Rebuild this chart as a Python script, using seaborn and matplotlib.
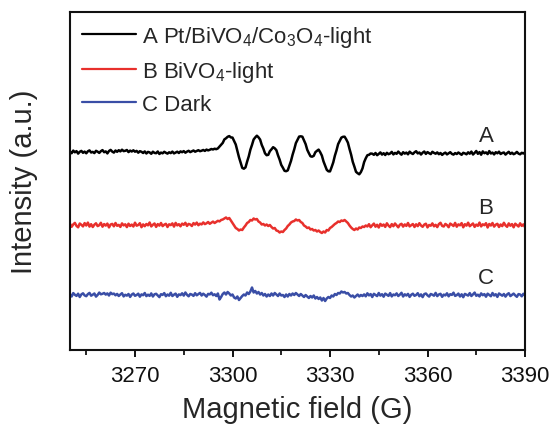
import numpy as np
import pandas as pd
import matplotlib
matplotlib.use("Agg")
import matplotlib.pyplot as plt
import seaborn as sns

# ---------------- data ----------------
field_start = 3250.0
field_step = 0.5

# Trace A (Pt/BiVO4/Co3O4-light), relative intensity
sig_a_left = [
    0.5, -1.2, 1.4, -0.3, 0.9, -1.6, 0.2, 1.1, -0.8, 0.4,
    -1.3, 0.7, 1.6, -0.5, 0.1, -1.1, 1.2, 0.3, -0.9, 0.8,
    1.9, -0.2, 0.6, -1.4, 1.0, 2.1, 0.4, -0.6, 1.5, 0.2,
    1.8, 0.6, 2.3, 0.9, 1.2, 2.0, -0.1, 1.4, 0.5, 1.7,
    0.3, 1.1, -0.7, 0.8, 0.2, -1.0, 0.6, -1.5, 0.1, -0.4,
    -1.8, 0.3, -0.9, -1.2, 0.5, -2.0, -0.6, -1.3, 0.2, -0.8,
    -1.6, -0.3, -1.1, 0.4, -1.4, -0.5, 0.3, -1.0, 0.6, -0.2,
    0.9, -0.7, 0.4, 1.2, -0.1, 0.7, 1.5, 0.3, 1.0, 1.8,
    0.8, 1.3, 2.0, 1.1, 2.4, 1.6, 2.2, 3.0, 2.5, 3.3,
    2.8, 3.6]
sig_a_mid = [
    5.4, 7.3, 9.1, 12.6, 13.7, 15.2, 15.9, 14.6, 14.4, 11.0,
    7.5, 1.2, -5.3, -10.6, -15.9, -16.7, -15.4, -9.6, -4.4, 2.3,
    7.1, 12.5, 14.6, 16.3, 14.7, 12.4, 7.1, 3.4, -1.3, -3.2,
    -2.8, 0.8, 2.7, 4.8, 3.7, 1.8, -3.3, -7.6, -12.9, -15.7,
    -18.8, -19.2, -18.4, -13.6, -8.9, -2.6, 2.7, 8.9, 12.1, 15.4,
    15.7, 15.3, 11.6, 7.9, 2.2, -1.2, -4.3, -4.7, -3.8, -0.2,
    1.2, 2.4, -0.3, -3.6, -9.4, -13.7, -17.8, -19.3, -19.4, -15.1,
    -10.4, -3.7, 1.6, 7.9, 11.2, 14.4, 15.2, 15.3, 12.6, 9.4,
    3.1, -2.7, -9.8, -14.6, -19.8, -21.2, -22.3, -20.1, -16.4, -10.1,
    -6.3, -3.2, -2.8, -1.5, -1.7]
sig_a_right = [
    -2.8, -1.0, -3.2, -1.9, -0.4, -2.6, -1.2, -3.0, -0.8, -2.2,
    -1.5, 0.1, -2.4, -0.9, -1.8, 0.4, -1.3, -2.7, -0.2, -1.6,
    -0.6, -2.3, 0.3, -1.1, -2.0, -0.3, 0.8, -1.4, -0.5, -2.5,
    -0.7, 0.5, -1.9, -0.1, -1.2, -2.1, 0.2, -0.9, -1.7, -0.4,
    -2.2, -1.0, -2.9, -1.5, -0.6, -2.4, -1.3, -0.2, -1.9, -2.6,
    -1.1, -2.0, -0.5, -1.6, -2.8, -0.8, -1.4, -2.3, -0.3, -1.7,
    0.4, -2.5, -0.9, 1.0, -1.8, -0.1, -2.7, 0.6, -1.2, -0.4,
    -2.1, 0.9, -1.5, -0.6, -2.4, -0.2, -1.3, 0.3, -2.0, -1.0,
    -0.5, -2.6, -1.1, 0.2, -1.9, -0.7, -2.2, -1.4, 0.1, -1.6,
    -2.3, -0.8, -1.5, -0.3]

# Trace B (BiVO4-light)
sig_b_left = [
    1.2, -1.8, 0.6, 2.1, -0.9, -2.3, 1.5, 0.2, -1.4, 1.9,
    -0.5, 2.4, -1.6, 0.8, -2.0, 0.3, 1.7, -1.1, -0.2, 2.2,
    -1.7, 0.9, -0.6, 1.4, -2.4, 0.5, 1.1, -1.3, 2.0, -0.8,
    0.1, -1.9, 1.6, -0.4, 0.7, -2.1, 1.3, -1.0, 0.4, -1.5,
    2.3, -0.7, 0.0, 1.8, -2.2, 0.6, -1.2, 1.0, -0.3, 2.5,
    -1.4, 0.2, 1.5, -1.9, 0.9, -0.6, 2.0, -1.1, 0.3, 1.2,
    -2.0, 0.7, -0.1, 1.6, -1.6, 2.1, -0.4, 0.8, -1.3, 1.4,
    0.2, 2.2, -0.9, 1.1, 0.5, -1.0, 1.9, 0.4, 2.4, -0.2,
    1.3, 0.6, 2.6, 0.9, 1.7, 3.0, 1.2, 2.3, 3.4, 2.0,
    3.1, 4.2, 3.6, 5.0]
sig_b_mid = [
    5.5, 6.5, 7.5, 6.0, 7.0, 4.5, 2.0, -0.5, -3.0, -4.0,
    -5.5, -4.5, -5.0, -2.5, -0.5, 2.0, 3.0, 5.0, 4.5, 6.5,
    5.5, 6.0, 3.5, 2.5, 0.5, 1.0, -0.5, 0.5, -1.0, 0.0,
    -2.0, -3.5, -3.0, -5.5, -6.0, -7.5, -6.5, -7.0, -5.0, -3.5,
    -1.0, 0.5, 2.5, 3.5, 4.0, 5.5, 4.5, 5.0, 3.0, 2.0,
    -0.5, -1.5, -3.0, -2.5, -4.5, -4.0, -5.5, -5.0, -6.5, -5.5,
    -7.0, -8.0, -6.5, -7.5, -5.0, -5.5, -3.0, -2.0, -0.5, 1.0,
    2.0, 3.5, 3.0, 4.5, 4.0, 5.0, 3.5, 2.0, -0.5, -2.5,
    -4.0, -5.0, -3.5, -4.5, -2.5, -3.0, -1.5, -2.0, -0.5]
sig_b_right = [
    -1.5, 0.8, -2.2, -0.3, 1.4, -1.7, 0.2, -2.5, 1.1, -0.8,
    0.5, -1.9, 1.7, -0.6, -2.1, 0.9, -1.2, 1.5, -0.4, -2.3,
    0.3, 1.2, -1.6, 0.6, -0.9, 2.0, -1.4, -0.2, 1.0, -2.0,
    0.7, -1.1, 1.8, -0.5, -1.8, 0.4, 1.3, -2.4, 0.0, -0.7,
    1.6, -1.3, 0.2, -2.1, 0.9, 2.2, -0.9, -1.5, 1.1, -0.1,
    -2.2, 1.4, 0.3, -1.0, 2.1, -1.7, 0.6, -0.3, 1.9, -2.3,
    0.8, -0.6, 2.3, -1.2, 0.1, 1.5, -1.9, 0.4, -0.8, 2.4,
    -1.4, 0.7, -0.2, 1.8, -2.5, 1.0, -0.5, 2.0, -1.6, 0.3,
    1.2, -2.0, 0.5, -1.1, 2.2, -0.4, -1.8, 1.6, -0.7, 0.9,
    -2.3, 1.3, -0.1, -1.5, 1.7, -0.9, 0.6, -2.1]

# Trace C (Dark)
sig_c_left = [
    0.8, -1.5, 1.9, 0.2, -0.9, 1.3, -2.0, 0.6, 1.7, -0.4,
    -1.2, 0.9, 2.1, -0.7, 0.3, 1.5, -1.6, 0.1, 2.4, 0.7,
    1.2, 2.0, 0.4, 1.6, -0.5, 2.3, 0.9, 1.4, -0.3, 1.1,
    -1.0, 0.5, 1.8, -1.4, 0.2, -0.6, 1.0, -1.9, 0.4, 1.5,
    -0.8, 0.0, 1.3, -1.7, 0.6, -0.2, 2.0, -1.1, 0.3, -0.9,
    1.6, -1.5, 0.7, 1.2, -0.4, -2.1, 0.8, 0.1, 1.9, -1.2,
    0.5, -0.7, 2.2, -1.0, 0.3, 1.4, -1.8, 0.6, -0.1, 1.7,
    -0.6, 2.5, 0.2, -1.3, 1.0, 0.4, -0.9, 1.8, -0.3, 0.9,
    2.1, -0.5, 1.3, 0.0, -1.6, 1.1, 0.6, 2.3, -0.2, 0.7]
sig_c_mid = [
    -1.0, 1.5, -4.5, -2.0, 1.0, 2.5, 0.5, 3.0, 1.5, -0.5,
    0.5, -2.5, -3.5, -1.5, -5.0, -3.0, -1.0, 0.5, -0.5, 2.5,
    1.0, 3.5, 7.5, 2.5, 4.0, 1.5, 3.0, 0.5, 2.0, -0.5,
    1.0, -1.5, 0.5, -1.0, 1.5, -0.5, 2.0, 0.5, -1.0, 1.5,
    -0.5, 0.0, -2.0, 0.5, -1.5, 1.0, -0.5, 1.5, 0.0, 2.0,
    0.5, -1.0, 1.0, -0.5, -2.0, 0.0, -1.5, -3.0, -1.0, -2.5,
    -0.5, -3.5, -2.0, -4.0, -2.5, -5.5, -3.0, -6.0, -3.5, -2.0,
    -3.0, -0.5, -1.5, 1.0, 0.0, 2.0, 1.5, 3.5, 2.5, 3.0,
    1.5, 2.0, 0.0, -1.5, -0.5, -2.5, -1.0, 0.5, -1.5, 0.0,
    -1.0]
sig_c_right = [
    0.6, -1.3, 1.7, -0.4, 0.9, -2.0, 1.2, 0.1, -1.1, 2.0,
    -0.6, 0.8, -1.7, 1.4, 0.3, -0.9, 1.9, -1.4, 0.5, -0.2,
    1.6, -1.0, 0.4, 2.2, -1.5, 0.7, -0.5, 1.1, -1.9, 0.2,
    1.3, -0.8, 0.0, 1.8, -1.2, 0.6, -2.1, 0.9, 1.5, -0.3,
    -1.6, 1.0, 0.3, -0.7, 2.1, -1.1, 0.5, 1.2, -1.8, 0.4,
    -0.4, 1.7, -1.3, 0.8, 0.1, 2.3, -0.9, -0.1, 1.4, -1.5,
    0.7, -2.2, 1.1, 0.2, -0.6, 1.9, -1.0, 0.6, 2.4, -0.8,
    0.3, -1.4, 1.6, -0.2, 0.9, -1.7, 1.3, 0.0, -1.2, 2.0,
    -0.5, 0.8, -1.9, 1.5, 0.4, -0.7, 1.0, -1.6, 0.6, 1.8,
    -1.1, 0.2, 1.4, -0.4, -1.8, 0.9, 0.5, -1.3, 1.2, -0.6]

series_labels = ["A Pt/BiVO$_4$/Co$_3$O$_4$-light", "B BiVO$_4$-light", "C Dark"]
series_tags = ["A", "B", "C"]
series_offsets = [198, 125, 55]
x_ticks = [3270, 3300, 3330, 3360, 3390]
x_minor = [3255, 3285, 3315, 3345, 3375]

# ---------------- build table ----------------
signals = [sig_a_left + sig_a_mid + sig_a_right,
           sig_b_left + sig_b_mid + sig_b_right,
           sig_c_left + sig_c_mid + sig_c_right]
frames = []
for lab, sig, off in zip(series_labels, signals, series_offsets):
    n = len(sig)
    frames.append(pd.DataFrame({
        "field": field_start + field_step * np.arange(n),
        "intensity": np.array(sig) + off,
        "series": lab,
    }))
df = pd.concat(frames, ignore_index=True)

# ---------------- style ----------------
sns.set_theme(style="ticks")
plt.rcParams["font.family"] = ["Liberation Sans", "DejaVu Sans"]
plt.rcParams["mathtext.fontset"] = "custom"
plt.rcParams["mathtext.rm"] = "Liberation Sans"
plt.rcParams["mathtext.it"] = "Liberation Sans"
plt.rcParams["mathtext.default"] = "regular"

colors = ["#000000", "#e8302c", "#3a4ea6"]

fig = plt.figure(figsize=(5.52, 4.27), dpi=100)
ax = fig.add_axes([70 / 552, 76 / 427, 455 / 552, 338 / 427])

sns.lineplot(data=df, x="field", y="intensity", hue="series",
             hue_order=series_labels, palette=colors, estimator=None,
             sort=False, linewidth=1.8, ax=ax)

ax.set_xlim(3250, 3390)
ax.set_ylim(0, 338)
ax.set_xticks(x_ticks)
ax.set_xticks(x_minor, minor=True)
ax.set_yticks([])
ax.tick_params(axis="x", which="major", direction="out", length=5,
               width=1.4, labelsize=16, pad=6, colors="#111111")
ax.tick_params(axis="x", which="minor", direction="out", length=3.5,
               width=1.4)
for sp in ax.spines.values():
    sp.set_visible(True)
    sp.set_linewidth(1.5)
    sp.set_color("#111111")

ax.set_xlabel("Magnetic field (G)", fontsize=21, labelpad=6)
ax.set_ylabel("Intensity (a.u.)", fontsize=21, labelpad=23)

for tag, off in zip(series_tags, series_offsets):
    ax.text(3378, off + 17, tag, fontsize=16, ha="center", va="center")

leg = ax.legend(loc="upper left", bbox_to_anchor=(0.0, 1.0), frameon=False,
                fontsize=16, handlelength=2.4, handletextpad=0.3,
                labelspacing=0.45, borderaxespad=0.15)
for line in leg.get_lines():
    line.set_linewidth(1.6)

fig.savefig("out.png", dpi=100)
